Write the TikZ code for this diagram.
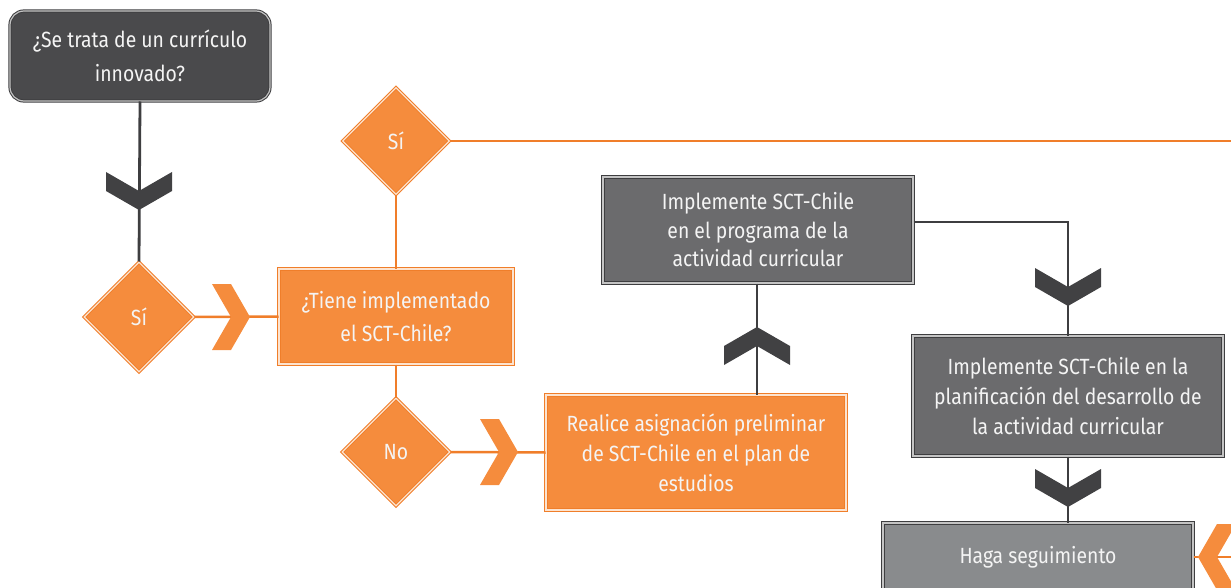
\documentclass[tikz,border=0pt]{standalone}
\usepackage{fontspec}
\setmainfont{Fira Sans}[FakeStretch=0.88]
\usetikzlibrary{shapes.geometric}
\definecolor{org}{HTML}{F58C3D}
\definecolor{orgline}{HTML}{F07E2A}
\definecolor{orgpale}{HTML}{FCE3CF}
\definecolor{dk}{HTML}{4A4A4C}
\definecolor{md}{HTML}{6B6B6D}
\definecolor{lt}{HTML}{898B8D}
\definecolor{chev}{HTML}{414143}
\definecolor{dline}{HTML}{3E3E40}
\definecolor{gpale}{HTML}{C4C4C4}
\definecolor{txt}{HTML}{F4F4F4}
\begin{document}
\begin{tikzpicture}[x=1pt,y=-1pt,
  every node/.style={font=\fontsize{22}{30}\selectfont, text=txt, align=center, inner sep=0pt},
  obox/.style={rectangle, fill=org, draw=orgline, double=orgpale, double distance=1.2pt, line width=1pt},
  gbox/.style={rectangle, draw=dline, double=gpale, double distance=1.2pt, line width=1pt},
  odia/.style={diamond, aspect=1, fill=org, draw=orgline, double=orgpale, double distance=1.2pt, line width=1pt},
  dl/.style={draw=dline, line width=2.8pt},
  ol/.style={draw=orgline, line width=2.5pt},
  chevdown/.pic={\fill[chev] (-33,-19) -- (0,0) -- (33,-19) -- (33,0) -- (0,19) -- (-33,0) -- cycle;},
  chevup/.pic={\fill[chev] (-33,19) -- (0,0) -- (33,19) -- (33,0) -- (0,-19) -- (-33,0) -- cycle;},
  chevright/.pic={\fill[org] (-19,-33) -- (0,-33) -- (19,0) -- (0,33) -- (-19,33) -- (0,0) -- cycle;},
  chevleft/.pic={\fill[org] (19,-33) -- (0,-33) -- (-19,0) -- (0,33) -- (19,33) -- (0,0) -- cycle;}
]
\useasboundingbox (0,0) rectangle (1231,588);
\begin{scope}
\clip (0,0) rectangle (1231,588);
% nodes
\node[gbox, fill=dk, rounded corners=14pt, minimum width=260pt, minimum height=90pt,
  font=\fontsize{22}{34}\selectfont] (q1) at (140,56) {¿Se trata de un currículo\\innovado?};
\node[odia, minimum width=110pt, minimum height=110pt] (si1) at (139,317) {Sí};
\node[obox, minimum width=234pt, minimum height=95pt, font=\fontsize{22}{33}\selectfont] (q2) at (396,316.5) {¿Tiene implementado\\el SCT-Chile?};
\node[odia, minimum width=107pt, minimum height=107pt] (si2) at (396,141) {Sí};
\node[odia, minimum width=108pt, minimum height=108pt] (no) at (396,452) {No};
\node[obox, minimum width=300pt, minimum height=115pt] (r) at (696,452.5) {Realice asignación preliminar\\de SCT-Chile en el plan de\\estudios};
\node[gbox, fill=md, minimum width=310pt, minimum height=106pt, font=\fontsize{22}{28.5}\selectfont] (imp1) at (758,230) {Implemente SCT-Chile\\en el programa de la\\actividad curricular};
\node[gbox, fill=md, minimum width=310pt, minimum height=120pt] (imp2) at (1068,396) {Implemente SCT-Chile en la\\planificación del desarrollo de\\la actividad curricular};
\node[gbox, fill=lt, minimum width=310pt, minimum height=68pt] (haga) at (1038,557) {Haga seguimiento};
\coordinate (e1) at (1233,141);
\coordinate (e2) at (1233,557);
% connectors
\draw[dl] (q1.south) -- (si1.north);
\draw[ol] (si1.east) -- (q2.west);
\draw[ol] (q2.north) -- (si2.south);
\draw[ol] (si2.east) -- (e1);
\draw[ol] (q2.south) -- (no.north);
\draw[ol] (no.east) -- (r.west);
\draw[dl] (imp1.south -| 757,0) -- (r.north -| 757,0);
\draw[dl] ([yshift=8pt]imp1.east) -| (imp2.north);
\draw[dl] (imp2.south) -- (imp2.south |- haga.north);
\draw[ol] (haga.east) -- (e2);
% chevrons
\pic at (139,191) {chevdown};
\pic at (231,317) {chevright};
\pic at (499,452) {chevright};
\pic at (757,346) {chevup};
\pic at (1068,287) {chevdown};
\pic at (1068,488) {chevdown};
\pic at (1217,557) {chevleft};
\end{scope}
\end{tikzpicture}
\end{document}
